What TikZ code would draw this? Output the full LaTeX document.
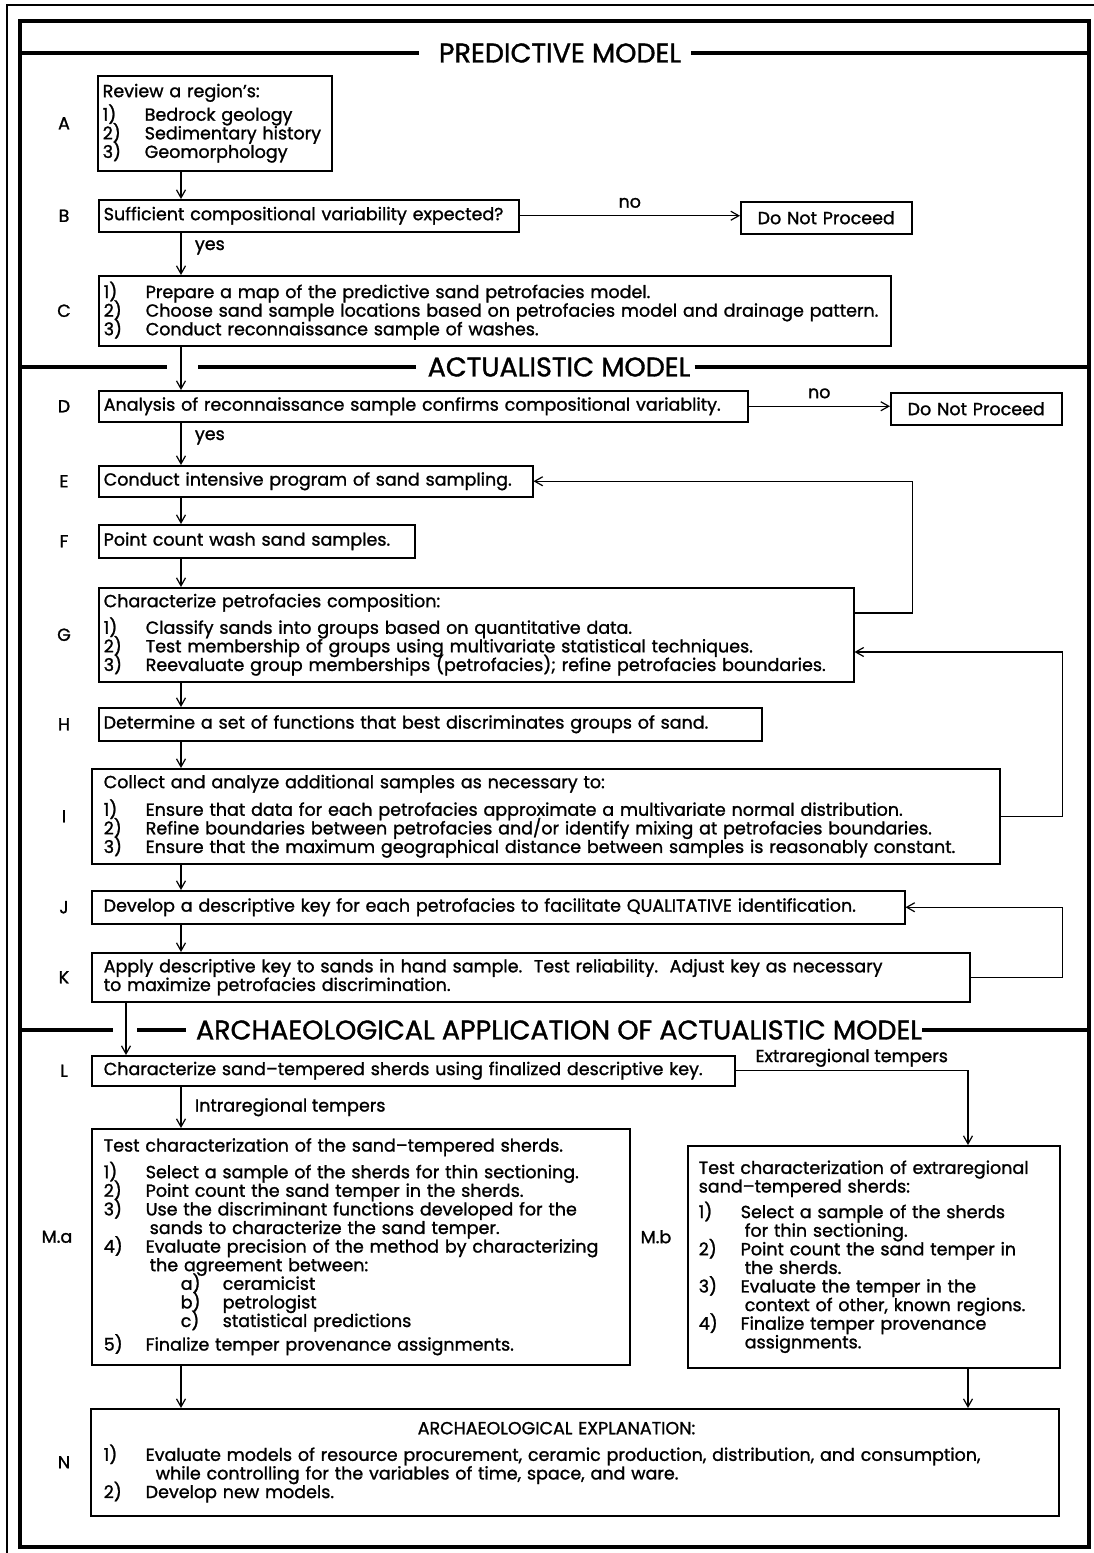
\documentclass[tikz,border=0pt]{standalone}
\usepackage{fontspec}
\setmainfont{Poppins}[FakeBold=1.3]
\usetikzlibrary{arrows.meta}

\newcommand{\bodysize}{\fontsize{17.5}{18.6}\selectfont\lineskiplimit=-30pt\lineskip=0pt\relax}
\newcommand{\nr}[1]{\makebox[42pt][l]{#1}}
\newcommand{\subnr}[1]{\hspace*{77pt}\makebox[42pt][l]{#1}}

\begin{document}
\begin{tikzpicture}[x=1pt, y=-1pt,
  font=\bodysize,
  stage/.style={draw, line width=1.5pt, anchor=north west, align=left, inner xsep=5pt, inner ysep=0pt},
  stop/.style={draw, line width=1.5pt, anchor=north west, align=center, inner sep=0pt},
  tag/.style={font=\fontsize{17.5}{18}\selectfont},
  flow/.style={-{Straight Barb[length=8pt,width=9pt]}, line width=1.2pt},
  band/.style={line width=3.2pt},
  heading/.style={font=\fontsize{27}{28}\selectfont, inner xsep=0pt},
]
\useasboundingbox (0,0) rectangle (1094,1553);

% Frames
\draw[line width=1.2pt] (7,1553) -- (7,5) -- (1094,5);
\draw[band] (20,21) rectangle (1089,1547);

% Section headings
\node[heading] (P) at (560,53) {PREDICTIVE MODEL};
\node[heading] (Q) at (559,367) {ACTUALISTIC MODEL};
\node[heading] (R) at (559,1030) {ARCHAEOLOGICAL APPLICATION OF ACTUALISTIC MODEL};
\draw[band] (20,53) -- ([xshift=-20pt]P.west);
\draw[band] ([xshift=10pt]P.east) -- (1089,53);
\draw[band] (20,367) -- (167,367);
\draw[band] (198,367) -- ([xshift=-12pt]Q.west);
\draw[band] ([xshift=4pt]Q.east) -- (1089,367);
\draw[band] (20,1030) -- (113,1030);
\draw[band] (137,1030) -- ([xshift=-10pt]R.west);
\draw[band] (R.east) -- (1089,1030);

% Predictive model
\node[stage, text width=224pt, minimum height=95pt] (A) at (97,75)
  {Review a region's:\\[5pt]\nr{1)}Bedrock geology\\\nr{2)}Sedimentary history\\\nr{3)}Geomorphology};
\node[stage, text width=410pt, minimum height=32pt] (B) at (98,199)
  {Sufficient compositional variability expected?};
\node[stop, text width=171pt, minimum height=32pt] (Bno) at (740,201) {Do Not Proceed};
\node[stage, text width=782pt, minimum height=70pt] (C) at (98,275)
  {\nr{1)}Prepare a map of the predictive sand petrofacies model.\\
   \nr{2)}Choose sand sample locations based on petrofacies model and drainage pattern.\\
   \nr{3)}Conduct reconnaissance sample of washes.};

% Actualistic model
\node[stage, text width=639pt, minimum height=31pt] (D) at (98,390)
  {Analysis of reconnaissance sample confirms compositional variablity.};
\node[stop, text width=171pt, minimum height=32pt] (Dno) at (890,392) {Do Not Proceed};
\node[stage, text width=424pt, minimum height=31pt] (E) at (98,465)
  {Conduct intensive program of sand sampling.};
\node[stage, text width=306pt, minimum height=33pt] (F) at (98,524)
  {Point count wash sand samples.};
\node[stage, text width=745pt, minimum height=94pt] (G) at (98,587)
  {Characterize petrofacies composition:\\[8pt]
   \nr{1)}Classify sands into groups based on quantitative data.\\
   \nr{2)}Test membership of groups using multivariate statistical techniques.\\
   \nr{3)}Reevaluate group memberships (petrofacies); refine petrofacies boundaries.};
\node[stage, text width=653pt, minimum height=33pt] (H) at (98,707)
  {Determine a set of functions that best discriminates groups of sand.};
\node[stage, inner xsep=12pt, text width=884pt, minimum height=95pt] (I) at (91,768)
  {Collect and analyze additional samples as necessary to:\\[9pt]
   \nr{1)}Ensure that data for each petrofacies approximate a multivariate normal distribution.\\
   \nr{2)}Refine boundaries between petrofacies and/or identify mixing at petrofacies boundaries.\\
   \nr{3)}Ensure that the maximum geographical distance between samples is reasonably constant.};
\node[stage, inner xsep=12pt, text width=789pt, minimum height=33pt] (J) at (91,890)
  {Develop a descriptive key for each petrofacies to facilitate QUALITATIVE identification.};
\node[stage, inner xsep=12pt, text width=854pt, minimum height=49pt] (K) at (91,952)
  {Apply descriptive key to sands in hand sample.\ \ Test reliability.\ \ Adjust key as necessary\\
   to maximize petrofacies discrimination.};

% Archaeological application
\node[stage, inner xsep=12pt, text width=619pt, minimum height=30pt] (L) at (91,1055)
  {Characterize sand--tempered sherds using finalized descriptive key.};
\node[stage, inner xsep=12pt, text width=514pt, minimum height=236pt] (Ma) at (91,1128)
  {Test characterization of the sand--tempered sherds.\\[8pt]
   \nr{1)}Select a sample of the sherds for thin sectioning.\\
   \nr{2)}Point count the sand temper in the sherds.\\
   \nr{3)}Use the discriminant functions developed for the\\
   \hspace*{46pt}sands to characterize the sand temper.\\
   \nr{4)}Evaluate precision of the method by characterizing\\
   \hspace*{46pt}the agreement between:\\
   \subnr{a)}ceramicist\\
   \subnr{b)}petrologist\\
   \subnr{c)}statistical predictions\\[5pt]
   \nr{5)}Finalize temper provenance assignments.};
\node[stage, inner xsep=11pt, text width=350pt, minimum height=222pt] (Mb) at (687,1145)
  {Test characterization of extraregional\\
   sand--tempered sherds:\\[7pt]
   \nr{1)}Select a sample of the sherds\\
   \hspace*{46pt}for thin sectioning.\\
   \nr{2)}Point count the sand temper in\\
   \hspace*{46pt}the sherds.\\
   \nr{3)}Evaluate the temper in the\\
   \hspace*{46pt}context of other, known regions.\\
   \nr{4)}Finalize temper provenance\\
   \hspace*{46pt}assignments.};
\node[stage, inner xsep=13pt, text width=942pt, minimum height=107pt] (N) at (90,1408)
  {\hspace*{314pt}ARCHAEOLOGICAL EXPLANATION:\\[8pt]
   \nr{1)}Evaluate models of resource procurement, ceramic production, distribution, and consumption,\\
   \hspace*{52pt}while controlling for the variables of time, space, and ware.\\
   \nr{2)}Develop new models.};

% Step letters
\coordinate (tagcol) at (64,0);
\foreach \n in {A,B,C,D,E,F,G,H,I,J,K,L,N}
  \node[tag] (t\n) at (\n.west -| tagcol) {\n};
\node[tag] (tMa) at ([xshift=-34pt,yshift=10pt]Ma.west) {M.a};
\node[tag] (tMb) at ([xshift=-31pt,yshift=20pt]Mb.west) {M.b};

% Main flow
\coordinate (spine) at (181,0);
\coordinate (drop) at (126,0);
\coordinate (rspine) at (968,0);
\draw[flow] (A.south -| spine) -- (B.north -| spine);
\draw[flow] (B.south -| spine) -- node[pos=0.35, right, xshift=10pt] {yes} (C.north -| spine);
\draw[flow] (C.south -| spine) -- (D.north -| spine);
\draw[flow] (D.south -| spine) -- node[pos=0.35, right, xshift=10pt] {yes} (E.north -| spine);
\draw[flow] (E.south -| spine) -- (F.north -| spine);
\draw[flow] (F.south -| spine) -- (G.north -| spine);
\draw[flow] (G.south -| spine) -- (H.north -| spine);
\draw[flow] (H.south -| spine) -- (I.north -| spine);
\draw[flow] (I.south -| spine) -- (J.north -| spine);
\draw[flow] (J.south -| spine) -- (K.north -| spine);
\draw[flow] (K.south -| drop) -- (L.north -| drop);
\draw[flow] (L.south -| spine) -- node[midway, right, xshift=10pt] {Intraregional tempers} (Ma.north -| spine);
\draw[flow] (Ma.south -| spine) -- (N.north -| spine);
\draw[flow] (L.east) -| node[pos=0.25, above] {Extraregional tempers} (Mb.north -| rspine);
\draw[flow] (Mb.south -| rspine) -- (N.north -| rspine);

% Dead ends
\draw[flow] (B.east) -- node[midway, above, yshift=4pt] {no} (B.east -| Bno.west);
\draw[flow] (D.east) -- node[midway, above, yshift=4pt] {no} (D.east -| Dno.west);

% Feedback loops
\draw[flow] ([yshift=-26pt]G.north east) -- ++(58,0) |- (E.east);
\draw[flow] (I.east) -- ++(62,0) |- ([yshift=-65pt]G.north east);
\draw[flow] (K.east) -- ++(92,0) |- (J.east);

\end{tikzpicture}
\end{document}
